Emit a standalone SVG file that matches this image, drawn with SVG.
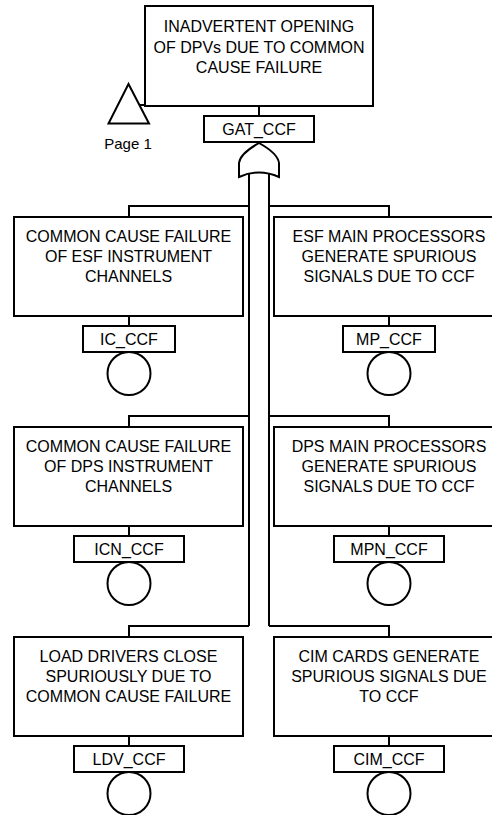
<svg xmlns="http://www.w3.org/2000/svg" width="492" height="815" viewBox="0 0 492 815">
<style>
.box{fill:#fff;stroke:#000;stroke-width:2}
.ln{fill:none;stroke:#000;stroke-width:2}
text{font-family:"Liberation Sans",Arial,sans-serif;font-size:16px;fill:#000;text-anchor:middle}
.pg{font-size:15px}
</style>
<rect width="492" height="815" fill="#fff"/>
<g id="connectors">
<path class="ln" d="M259,106 V116"/>
<path class="ln" d="M139,105 H145"/>
<path class="ln" d="M249,174 V626 M269,174 V626"/>
<path class="ln" d="M249,206 H129 V217 M249,416 H129 V427 M249,626 H129 V637"/>
<path class="ln" d="M269,206 H389 V217 M269,416 H389 V427 M269,626 H389 V637"/>
<path class="ln" d="M129,316 V326 M129,526 V536 M129,736 V746"/>
<path class="ln" d="M389,316 V326 M389,526 V536 M389,736 V746"/>
</g>
<g id="GAT_CCF">
<rect class="box" x="145" y="6" width="228" height="100"/>
<text x="259" y="32">INADVERTENT OPENING</text>
<text x="259" y="52.5">OF DPVs DUE TO COMMON</text>
<text x="259" y="73">CAUSE FAILURE</text>
<rect class="box" x="204" y="116" width="110" height="26"/>
<text x="259" y="135">GAT_CCF</text>
<path class="box" d="M259,143 C250,148 240,155 239,163 L239,177 Q259,168 279,177 L279,163 C278,155 268,148 259,143 Z"/>
</g>
<g id="transfer">
<polygon class="box" points="128.5,84 108.5,123.5 149,123.5"/>
<text class="pg" x="128" y="149">Page 1</text>
</g>
<g id="IC_CCF">
<rect class="box" x="14" y="217" width="229" height="99"/>
<text x="128.5" y="242">COMMON CAUSE FAILURE</text>
<text x="128.5" y="262">OF ESF INSTRUMENT</text>
<text x="128.5" y="282">CHANNELS</text>
<circle class="box" cx="129" cy="373.5" r="21.5"/>
<rect class="box" x="83" y="326" width="92" height="26"/>
<text x="129" y="345">IC_CCF</text>
</g>
<g id="MP_CCF">
<rect class="box" x="274" y="217" width="230" height="99"/>
<text x="389" y="242">ESF MAIN PROCESSORS</text>
<text x="389" y="262">GENERATE SPURIOUS</text>
<text x="389" y="282">SIGNALS DUE TO CCF</text>
<circle class="box" cx="389" cy="373.5" r="21.5"/>
<rect class="box" x="343" y="326" width="92" height="26"/>
<text x="389" y="345">MP_CCF</text>
</g>
<g id="ICN_CCF">
<rect class="box" x="14" y="427" width="229" height="99"/>
<text x="128.5" y="452">COMMON CAUSE FAILURE</text>
<text x="128.5" y="472">OF DPS INSTRUMENT</text>
<text x="128.5" y="492">CHANNELS</text>
<circle class="box" cx="129" cy="583.5" r="21.5"/>
<rect class="box" x="74" y="536" width="110" height="26"/>
<text x="129" y="555">ICN_CCF</text>
</g>
<g id="MPN_CCF">
<rect class="box" x="274" y="427" width="230" height="99"/>
<text x="389" y="452">DPS MAIN PROCESSORS</text>
<text x="389" y="472">GENERATE SPURIOUS</text>
<text x="389" y="492">SIGNALS DUE TO CCF</text>
<circle class="box" cx="389" cy="583.5" r="21.5"/>
<rect class="box" x="334" y="536" width="110" height="26"/>
<text x="389" y="555">MPN_CCF</text>
</g>
<g id="LDV_CCF">
<rect class="box" x="14" y="637" width="229" height="99"/>
<text x="128.5" y="662">LOAD DRIVERS CLOSE</text>
<text x="128.5" y="682">SPURIOUSLY DUE TO</text>
<text x="128.5" y="702">COMMON CAUSE FAILURE</text>
<circle class="box" cx="129" cy="793.5" r="21.5"/>
<rect class="box" x="74" y="746" width="110" height="26"/>
<text x="129" y="765">LDV_CCF</text>
</g>
<g id="CIM_CCF">
<rect class="box" x="274" y="637" width="230" height="99"/>
<text x="389" y="662">CIM CARDS GENERATE</text>
<text x="389" y="682">SPURIOUS SIGNALS DUE</text>
<text x="389" y="702">TO CCF</text>
<circle class="box" cx="389" cy="793.5" r="21.5"/>
<rect class="box" x="334" y="746" width="110" height="26"/>
<text x="389" y="765">CIM_CCF</text>
</g>
</svg>
